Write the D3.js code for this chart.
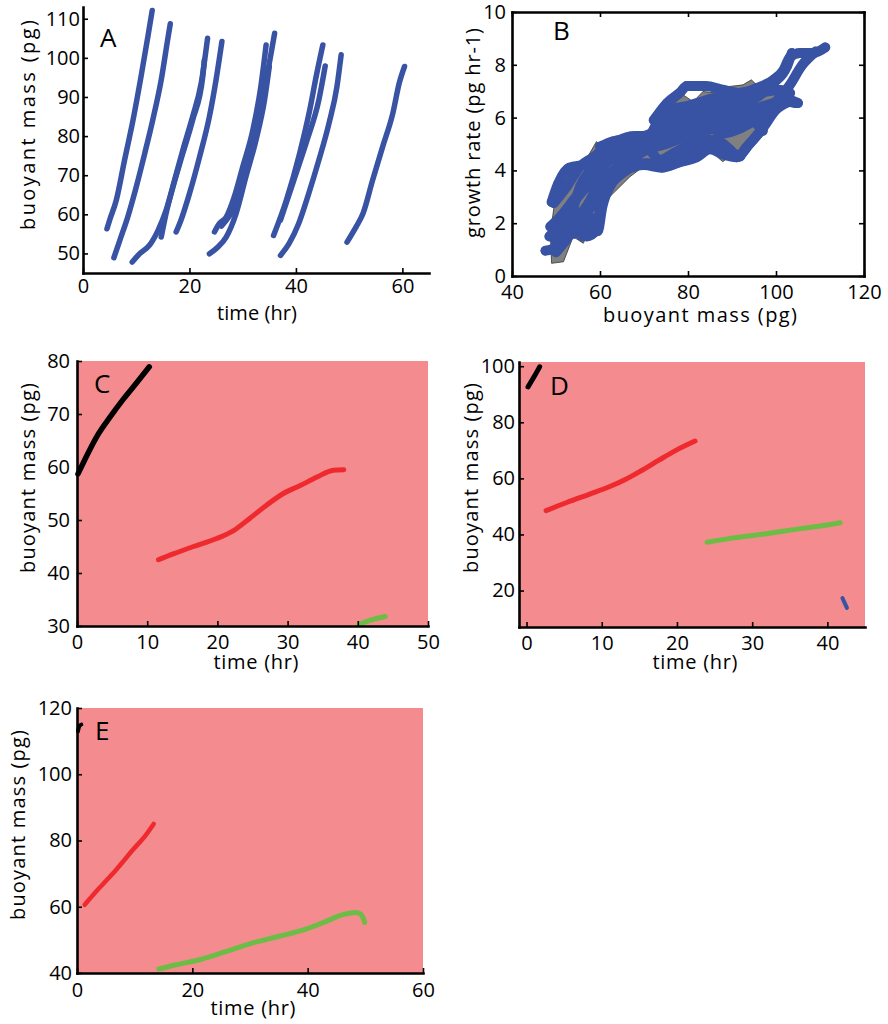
<!DOCTYPE html>
<html><head><meta charset="utf-8">
<script src="https://cdn.jsdelivr.net/npm/d3@7/dist/d3.min.js"></script>
<style>
body{margin:0;background:#fff}
svg{display:block}
text{font-family:"Open Sans",sans-serif;fill:#000}
</style>
</head><body>
<svg id="chart" width="888" height="1024"></svg>
<script>
// ---------- DATA ----------
// Panel A: buoyant mass (pg) vs time (hr), one array per cell
const traceA1 = [[4.5,56.3],[5,58.5],[6.25,63.6],[7.8,73.8],[9.4,84.1],[10.9,95.2],[12.2,105.5],[13,112.1]];
const traceA2 = [[5.8,48.9],[6.9,53.3],[8.4,59.3],[10,67],[11.6,75.6],[13.1,84.1],[14.7,94.4],[15.9,104.6],[16.4,108.7]];
const traceA3 = [[9.25,47.8],[10.6,49.9],[12.5,52.1],[14.1,55.9],[15.6,61],[17.2,68.7],[18.75,76.4],[20.6,85],[22.2,93.5],[23.4,105]];
const traceA4 = [[14.7,54.2],[15.6,60.2],[16.9,67],[18.75,75.6],[20.6,84.1],[22.5,95.2],[22.8,99.5]];
const traceA5 = [[17.5,55.5],[18.4,58.5],[20,65.3],[21.9,74.7],[23.75,85],[25,94.4],[26.1,104.2]];
const traceA6 = [[23.75,49.9],[25.3,51.6],[26.9,54.2],[28.75,60.2],[30.6,69.6],[32.5,79],[34.1,89.2],[35,97.8]];
const traceA7 = [[24.7,55.5],[25.6,57.6],[26.9,59.3],[28.4,64.4],[30,72.1],[31.9,81.5],[33.4,92.6],[34.4,103.3]];
const traceA8 = [[26,57],[28.5,62],[30.5,70],[32.5,82],[34.5,95],[36,106.3]];
const traceA9 = [[35.8,54.6],[38.2,63.6],[40.7,75.6],[42.6,86.7],[43.8,95.2],[45.06,103.3]];
const traceA10 = [[37.1,58.5],[39.6,68.7],[42.1,79],[44.3,89.2],[45.5,97.9]];
const traceA11 = [[37.1,49.5],[38.7,52.5],[40.5,57.6],[42.4,65.3],[44.3,73.8],[46.2,83.2],[47.7,92.6],[48.5,100.8]];
const traceA12 = [[49.6,52.9],[51.3,56.8],[52.6,60.2],[54.4,68.7],[56.3,77.3],[58.2,85.8],[59.4,93.5],[60.4,97.8]];
const tracesA = [traceA1,traceA2,traceA3,traceA4,traceA5,traceA6,traceA7,traceA8,traceA9,traceA10,traceA11,traceA12];
const ticksAx = [0,20,40,60];
const ticksAy = [50,60,70,80,90,100,110];

// Panel B: growth rate (pg/hr) vs buoyant mass (pg)
const bandUpper = [[49,0.48],[48.7,1.6],[50.2,3.4],[52.5,3.9],[55.5,4.27],[57.5,4.6],[59.2,5.09],[60.8,4.78],[62.2,4.6],[63.1,4.9],[66.1,5.16],[70.7,5.4],[72.1,5.85],[73.7,6.17],[76.6,6.48],[78.9,6.86],[81.2,6.6],[83.4,6.99],[86.5,6.93],[89.5,7.18],[92.5,7.24],[94.4,7.43],[95.6,7.24],[98.7,7.43],[100.2,6.68],[100.8,6.4]];
const bandLower = [[49,0.48],[51.7,0.54],[53.9,1.49],[56.2,1.24],[58.1,1.87],[62.2,3.0],[66.8,3.76],[69.8,4.14],[74.3,4.14],[76.6,4.27],[81.2,4.4],[83.4,4.52],[84.9,4.77],[87.9,4.33],[89.4,4.52],[93.2,4.77],[96.2,5.27],[98.5,6.16],[100,6.29],[100.8,6.4]];
const growthB1 = [[72.2,5.9],[75.2,6.55],[78.2,6.95],[79.7,7.2],[84,7.2],[88.1,7.05],[91.9,6.93],[95.6,7.12],[99.4,7.43],[101.7,7.8],[103.2,8.3],[105.5,8.45],[108.5,8.45],[111.2,8.66]];
const growthB2 = [[47.6,0.96],[50.2,1.1],[52.5,1.6],[54,2.6],[55.5,3.4],[57.8,4],[61.6,4.5],[65.4,5.0],[69.1,5.3],[72.9,5.3],[76.7,5.5],[81.3,5.8],[85.8,5.9],[90.3,6.04],[94.9,6.3],[99.4,6.55],[102.5,6.6],[104.4,6.55]];
const growthB3 = [[49.5,2.76],[52.5,3.4],[55.5,4.15],[58.5,4.5],[61.6,4.9],[65.4,5.16],[69.1,5.16],[73.7,4.4],[76.7,4.65],[81.3,5.03],[85.8,5.16],[89.6,4.78],[91.1,4.5],[93.4,4.9],[96.4,5.47]];
const growthB4 = [[54,1.6],[56.3,1.87],[57,1.5],[59.3,1.75],[60,2.63],[61.6,3.4],[64.6,4.15],[69.1,4.65],[72.9,5.16],[76.7,5.8],[81.3,6.3],[86.6,6.55],[91.9,6.68],[96.4,6.93],[100.9,7.05],[103.2,6.93]];
const growthB5 = [[48.7,1.87],[51,2.25],[54,2.88],[57,3.5],[60,4.15],[63.8,4.5],[68.3,4.9],[72.2,5.4],[76.7,6.04],[81.3,6.04],[85.8,6.3],[90.3,6.42],[94.9,6.68],[99.4,7.3],[102.5,7.94],[103.6,8.45]];
const growthB6 = [[52.5,2.25],[55.5,2.38],[57.8,2.88],[59.3,3.4],[62.3,3.9],[66.1,4.27],[70.7,4.27],[73.7,4.15],[76.7,4.53],[81.3,4.78],[86.6,5.03],[90.3,4.65],[91.9,4.53]];
const growthB7 = [[50,1.3],[52,1.7],[54.5,2.2],[56,1.5],[58,2.2],[59.5,1.7],[60.5,2.6],[63,3.6],[67,4.4],[71,4.8],[75,5.0],[80,5.3],[86,5.6],[92,5.9],[97,6.1],[102,6.7],[105,6.55]];
const growthB8 = [[49,2.8],[50.5,3.5],[53,4.1],[56,4.2],[58,4.25],[61,4.7],[64,5.1],[68,5.3],[71,5.3],[73,5.8],[76,6.3],[80,6.45],[85,6.7],[90,6.9],[94,7.0],[98,7.2],[101,7.6]];
const growthB9 = [[50,0.9],[52,1.3],[55,2.0],[57,2.4],[60,3.1],[63,3.6],[66,4.0],[70,4.2],[74,4.1],[78,4.3],[82,4.5],[85,4.8],[88,4.6],[91,4.5],[94,5.0],[97,5.6],[100,6.3],[103,6.6]];
const growthB10 = [[48.5,1.5],[51,2.0],[53,2.6],[55,3.0],[58,3.6],[61,4.2],[64,4.7],[68,4.9],[72,5.0],[76,5.2],[80,5.5],[84,5.7],[88,5.4],[92,5.6],[96,6.0],[100,6.6],[103,7.2],[106,8.0],[109,8.5]];
const growthB11 = [[60,4.9],[63,5.1],[67,5.2],[70,5.3],[74,5.6],[78,6.0],[82,6.2],[86,6.3],[90,6.2],[94,6.0],[97,5.5]];
const tracesB = [growthB1,growthB2,growthB3,growthB4,growthB5,growthB6,growthB7,growthB8,growthB9,growthB10,growthB11];
const ticksBx = [40,60,80,100,120];
const ticksBy = [0,2,4,6,8,10];

// Panel C
const cBlack = [[0.14,58.7],[1.3,61.9],[2.8,65.7],[4.7,69.4],[6.6,72.8],[8.5,75.9],[10.3,78.9]];
const cRed = [[11.6,42.5],[13.7,43.6],[16.6,45],[19.9,46.5],[22.3,48],[24.6,50.3],[27,52.8],[29.4,55],[31.8,56.5],[34.2,58.1],[36.5,59.4],[38,59.5]];
const cGreen = [[40.2,30.3],[41.8,31.1],[43.9,31.8]];
const ticksCx = [0,10,20,30,40,50];
const ticksCy = [30,40,50,60,70,80];

// Panel D
const dBlack = [[0.2,92.6],[1,96.2],[1.75,99.8]];
const dRed = [[2.6,48.5],[5.35,51.4],[8.4,54.4],[11,57],[13.2,59.7],[15.4,63],[17.6,66.5],[19.8,69.9],[22.4,73.3]];
const dGreen = [[24,37.2],[27.3,38.7],[31.7,40.2],[36,41.9],[39.5,43.2],[41.7,44.2]];
const dBlue = [[42,17.3],[42.6,13.8]];
const ticksDx = [0,10,20,30,40];
const ticksDy = [20,40,60,80,100];

// Panel E
const eBlack = [[0.17,113],[0.46,114.7],[0.75,115]];
const eRed = [[1.33,60.6],[3.9,65.7],[6.8,71.2],[9.7,77.2],[12,81.8],[13.3,85]];
const eGreen = [[14.2,41.2],[17.2,42.5],[21.3,44],[25.9,46.5],[30.5,49.1],[35.1,51.1],[39.8,53.3],[43.2,55.6],[46.1,57.6],[48.4,58.3],[49.3,57.6],[49.9,55.3]];
const ticksEx = [0,20,40,60];
const ticksEy = [40,60,80,100,120];

// ---------- DRAWING ----------
const svg = d3.select('#chart');
const BLUE = '#3953a4', RED = '#ee2a2e', GREEN = '#6cbd45', PINK = '#f48b8f';

function panel(o) {
  const x = d3.scaleLinear().domain(o.xd).range([o.l, o.r]);
  const y = d3.scaleLinear().domain(o.yd).range([o.b, o.t]);
  const g = svg.append('g');
  if (o.bg) g.append('rect').attr('x', o.l).attr('y', o.t).attr('width', o.r - o.l).attr('height', o.b - o.t).attr('fill', o.bg);
  const content = g.append('g');
  o.draw(content, x, y);
  g.append('g').attr('transform', `translate(0,${o.b})`)
    .call(d3.axisBottom(x).tickValues(o.xt).tickSizeInner(-5).tickSizeOuter(0).tickPadding(o.xpad).tickFormat(d3.format('d')));
  g.append('g').attr('transform', `translate(${o.l},0)`)
    .call(d3.axisLeft(y).tickValues(o.yt).tickSizeInner(-5).tickSizeOuter(0).tickPadding(o.ypad).tickFormat(d3.format('d')));
  if (o.box) {
    g.append('g').attr('transform', `translate(0,${o.t})`)
      .call(d3.axisTop(x).tickValues(o.xt).tickSizeInner(-5).tickSizeOuter(0).tickFormat(''));
    g.append('g').attr('transform', `translate(${o.r},0)`)
      .call(d3.axisRight(y).tickValues(o.yt).tickSizeInner(-5).tickSizeOuter(0).tickFormat(''));
  }
  g.selectAll('.domain').attr('stroke', '#000').attr('stroke-width', 2.6).attr('stroke-linecap','square');
  g.selectAll('.tick line').attr('stroke', '#000').attr('stroke-width', 1.6);
  g.selectAll('.tick text').attr('font-size', 20).attr('font-family', '"Open Sans",sans-serif').attr('fill', '#000');
  g.append('text').attr('x', o.xl[0]).attr('y', o.xl[1]).attr('text-anchor', 'middle')
    .attr('font-size', 20).attr('textLength', o.xl[2]).attr('lengthAdjust', 'spacing').text(o.xlabel);
  g.append('text').attr('transform', `translate(${o.yl[0]},${o.yl[1]}) rotate(-90)`).attr('text-anchor', 'middle')
    .attr('font-size', 20).attr('textLength', o.yl[2]).attr('lengthAdjust', 'spacing').text(o.ylabel);
  g.append('text').attr('x', o.letter[1]).attr('y', o.letter[2]).attr('font-size', 26).text(o.letter[0]);
}

const line = (x, y) => d3.line().x(d => x(d[0])).y(d => y(d[1])).curve(d3.curveMonotoneX);
function stroke(gr, data, x, y, color, w) {
  gr.append('path').attr('d', line(x, y)(data)).attr('fill', 'none').attr('stroke', color)
    .attr('stroke-width', w).attr('stroke-linecap', 'round').attr('stroke-linejoin', 'round');
}

// A
panel({l:83, r:429, t:7, b:273, xd:[0,65], yd:[45,113], xt:ticksAx, yt:ticksAy, xpad:6, ypad:3,
  xlabel:'time (hr)', xl:[257,320,80], ylabel:'buoyant mass  (pg)', yl:[35,125,210], letter:['A',100,47],
  draw:(gr,x,y)=>{ tracesA.forEach(t => stroke(gr, t, x, y, BLUE, 5.5)); }});

// B
panel({l:512, r:864, t:12, b:276, xd:[40,120], yd:[0,10], xt:ticksBx, yt:ticksBy, xpad:9, ypad:6, box:true,
  xlabel:'buoyant mass  (pg)', xl:[700,322,194], ylabel:'growth rate (pg hr-1)', yl:[480,133,210], letter:['B',553,40],
  draw:(gr,x,y)=>{
    const poly = bandUpper.concat(bandLower.slice().reverse());
    gr.append('path').attr('d', d3.line().x(d=>x(d[0])).y(d=>y(d[1]))(poly) + 'Z')
      .attr('fill', '#808080').attr('stroke', '#333').attr('stroke-width', 0.8);
    tracesB.forEach(t => {
      stroke(gr, t, x, y, BLUE, 10);
      gr.selectAll(null).data(t).enter().append('circle')
        .attr('cx', d => x(d[0])).attr('cy', d => y(d[1])).attr('r', 4)
        .attr('fill', 'none').attr('stroke', BLUE).attr('stroke-width', 1.5);
    });
  }});

// C
panel({l:77, r:428, t:361, b:626, xd:[0,50], yd:[30,80], xt:ticksCx, yt:ticksCy, xpad:9, ypad:7, bg:PINK,
  xlabel:'time (hr)', xl:[256,669,85], ylabel:'buoyant mass  (pg)', yl:[35,478,190], letter:['C',94,393],
  draw:(gr,x,y)=>{ stroke(gr,cBlack,x,y,'#000',5.5); stroke(gr,cRed,x,y,RED,5); stroke(gr,cGreen,x,y,GREEN,5); }});

// D
panel({l:519, r:865, t:362, b:627, xd:[-1,45], yd:[7,101.5], xt:ticksDx, yt:ticksDy, xpad:9, ypad:4, bg:PINK,
  xlabel:'time (hr)', xl:[695,669,85], ylabel:'buoyant mass  (pg)', yl:[478,478,190], letter:['D',550,395],
  draw:(gr,x,y)=>{ stroke(gr,dBlack,x,y,'#000',5); stroke(gr,dRed,x,y,RED,5); stroke(gr,dGreen,x,y,GREEN,5); stroke(gr,dBlue,x,y,BLUE,4); }});

// E
panel({l:77, r:423, t:708, b:973, xd:[0,60], yd:[40,120], xt:ticksEx, yt:ticksEy, xpad:10, ypad:5, bg:PINK,
  xlabel:'time (hr)', xl:[253,1015,85], ylabel:'buoyant mass  (pg)', yl:[25,825,190], letter:['E',95,740],
  draw:(gr,x,y)=>{ stroke(gr,eBlack,x,y,'#000',4); stroke(gr,eRed,x,y,RED,4.5); stroke(gr,eGreen,x,y,GREEN,5); }});
</script>
</body></html>
